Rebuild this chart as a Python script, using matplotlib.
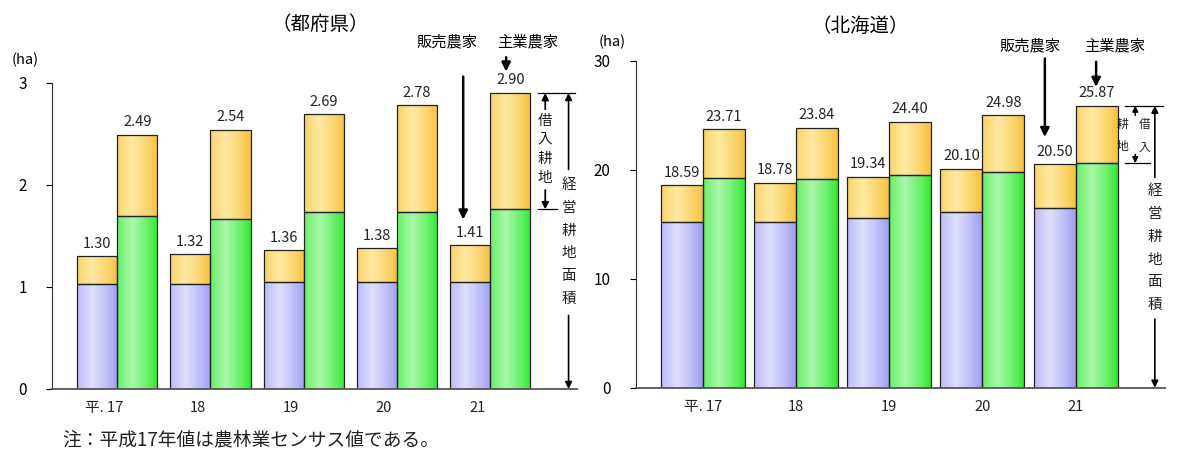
import matplotlib
matplotlib.use('Agg')
import matplotlib.pyplot as plt
import numpy as np

plt.rcParams['font.family'] = ['Noto Sans CJK JP', 'DejaVu Sans']

years = ['平. 17', '18', '19', '20', '21']

# 都府県 (ha)
pref_hanbai_total = [1.30, 1.32, 1.36, 1.38, 1.41]
pref_hanbai_own = [1.03, 1.03, 1.05, 1.05, 1.05]
pref_shugyo_total = [2.49, 2.54, 2.69, 2.78, 2.90]
pref_shugyo_own = [1.69, 1.67, 1.73, 1.73, 1.76]

# 北海道 (ha)
hok_hanbai_total = [18.59, 18.78, 19.34, 20.10, 20.50]
hok_hanbai_own = [15.17, 15.17, 15.60, 16.15, 16.50]
hok_shugyo_total = [23.71, 23.84, 24.40, 24.98, 25.87]
hok_shugyo_own = [19.21, 19.15, 19.50, 19.80, 20.60]

BLUE = ('#9c9cf2', '#dedefc')
GREEN = ('#2ee82e', '#a8f8a8')
GOLD = ('#f6c03a', '#fee9a2')


def gradient(ax, patches, edge, mid):
    e = np.array(matplotlib.colors.to_rgb(edge))
    m = np.array(matplotlib.colors.to_rgb(mid))
    t = np.linspace(0, 1, 64)
    w = np.clip(1 - np.abs(t - 0.38) / 0.62, 0, 1) ** 0.8
    arr = (e[None, :] * (1 - w[:, None]) + m[None, :] * w[:, None])[None, :, :]
    for p in patches:
        x0, y0 = p.get_x(), p.get_y()
        im = ax.imshow(arr, extent=[x0, x0 + p.get_width(), y0, y0 + p.get_height()],
                       aspect='auto', zorder=1, interpolation='bilinear')
        im.set_clip_path(p)
        p.set_facecolor('none')
        p.set_zorder(2)


def draw_panel(ax, h_tot, h_own, s_tot, s_own, width, ymax, yticks, tick_shift):
    x = np.arange(len(years))
    kw = dict(width=width, edgecolor='#222222', linewidth=0.9)
    b1 = ax.bar(x - width / 2, h_own, **kw)
    b2 = ax.bar(x - width / 2, np.subtract(h_tot, h_own), bottom=h_own, **kw)
    b3 = ax.bar(x + width / 2, s_own, **kw)
    b4 = ax.bar(x + width / 2, np.subtract(s_tot, s_own), bottom=s_own, **kw)
    gradient(ax, b1, *BLUE)
    gradient(ax, b2, *GOLD)
    gradient(ax, b3, *GREEN)
    gradient(ax, b4, *GOLD)
    for xi, v in zip(x, h_tot):
        ax.annotate(f'{v:.2f}', (xi - width / 2, v), xytext=(0, 4), textcoords='offset points',
                    ha='center', va='bottom', fontsize=10.5, color='#222222')
    for xi, v in zip(x, s_tot):
        ax.annotate(f'{v:.2f}', (xi + width / 2, v), xytext=(0, 4), textcoords='offset points',
                    ha='center', va='bottom', fontsize=10.5, color='#222222')
    ax.set_ylim(0, ymax)
    ax.set_yticks(yticks)
    ax.set_xticks(x + tick_shift)
    ax.set_xticklabels(years)
    ax.tick_params(axis='x', length=0, pad=9, labelsize=10.5, labelcolor='#222222')
    ax.tick_params(axis='y', direction='out', length=4, pad=14, labelsize=11)
    ax.spines['top'].set_visible(False)
    ax.spines['right'].set_visible(False)
    ax.spines['left'].set_color('#333333')
    ax.spines['bottom'].set_color('#555555')
    ax.spines['bottom'].set_linewidth(1.3)


def arrow(ax, start, tip, lw=1.8, ms=13):
    ax.annotate('', xy=tip, xytext=start, annotation_clip=False,
                arrowprops=dict(arrowstyle='-|>', color='black', lw=lw, mutation_scale=ms,
                                shrinkA=0, shrinkB=0))


def vtext(ax, x, y, s, size, spacing):
    ax.text(x, y, '\n'.join(s), ha='center', va='center', fontsize=size,
            linespacing=spacing, clip_on=False, color='#222222')


fig = plt.figure(figsize=(12, 4.53), dpi=100)

# ---- 都府県 ----
ax1 = fig.add_axes([0.0433, 0.1413, 0.4375, 0.676])
draw_panel(ax1, pref_hanbai_total, pref_hanbai_own, pref_shugyo_total, pref_shugyo_own,
           0.43, 3, [0, 1, 2, 3], -0.14)
ax1.set_xlim(-0.70, 4.93)
ax1.text(2.18, 3.57, '（都府県）', ha='center', va='center', fontsize=14, clip_on=False)
ax1.text(-0.99, 3.22, '(ha)', ha='center', va='center', fontsize=10.5, clip_on=False)
ax1.text(3.54, 3.40, '販売農家', ha='center', va='center', fontsize=11, clip_on=False)
ax1.text(4.40, 3.40, '主業農家', ha='center', va='center', fontsize=11, clip_on=False)
arrow(ax1, (3.71, 3.06), (3.71, 1.66))
arrow(ax1, (4.17, 3.25), (4.17, 3.11))
# bracket annotations
ax1.plot([4.51, 4.91], [2.90, 2.90], color='black', lw=0.9, clip_on=False)
ax1.plot([4.51, 4.72], [1.76, 1.76], color='black', lw=0.9, clip_on=False)
arrow(ax1, (4.59, 2.74), (4.59, 2.90), lw=1.3, ms=10)
arrow(ax1, (4.59, 1.95), (4.59, 1.76), lw=1.3, ms=10)
vtext(ax1, 4.59, 2.35, '借入耕地', 10.5, 1.45)
arrow(ax1, (4.84, 2.15), (4.84, 2.90), lw=1.2, ms=10)
arrow(ax1, (4.84, 0.72), (4.84, 0.0), lw=1.2, ms=10)
vtext(ax1, 4.84, 1.44, '経営耕地面積', 10.5, 1.8)

# ---- 北海道 ----
ax2 = fig.add_axes([0.5298, 0.1441, 0.4411, 0.7219])
draw_panel(ax2, hok_hanbai_total, hok_hanbai_own, hok_shugyo_total, hok_shugyo_own,
           0.45, 30, [0, 10, 20, 30], 0.0)
ax2.set_xlim(-0.72, 4.96)
ax2.text(1.69, 33.1, '（北海道）', ha='center', va='center', fontsize=14, clip_on=False)
ax2.text(-0.97, 31.7, '(ha)', ha='center', va='center', fontsize=10.5, clip_on=False)
ax2.text(3.51, 31.4, '販売農家', ha='center', va='center', fontsize=11, clip_on=False)
ax2.text(4.42, 31.4, '主業農家', ha='center', va='center', fontsize=11, clip_on=False)
arrow(ax2, (3.67, 30.2), (3.67, 23.0))
arrow(ax2, (4.22, 29.9), (4.22, 27.6))
ax2.plot([4.53, 4.94], [25.87, 25.87], color='black', lw=0.9, clip_on=False)
ax2.plot([4.53, 4.80], [20.60, 20.60], color='black', lw=0.9, clip_on=False)
arrow(ax2, (4.64, 25.0), (4.64, 25.87), lw=1.2, ms=8)
arrow(ax2, (4.64, 21.4), (4.64, 20.60), lw=1.2, ms=8)
vtext(ax2, 4.50, 23.1, '耕地', 8.5, 1.9)
vtext(ax2, 4.74, 23.1, '借入', 8.5, 1.9)
arrow(ax2, (4.85, 19.3), (4.85, 25.87), lw=1.2, ms=10)
arrow(ax2, (4.85, 6.3), (4.85, 0.0), lw=1.2, ms=10)
vtext(ax2, 4.85, 12.8, '経営耕地面積', 10.5, 1.8)

fig.text(0.052, 0.029, '注：平成17年値は農林業センサス値である。', ha='left', va='center',
         fontsize=13.5, color='#222222')

fig.savefig('out.png', dpi=100)
